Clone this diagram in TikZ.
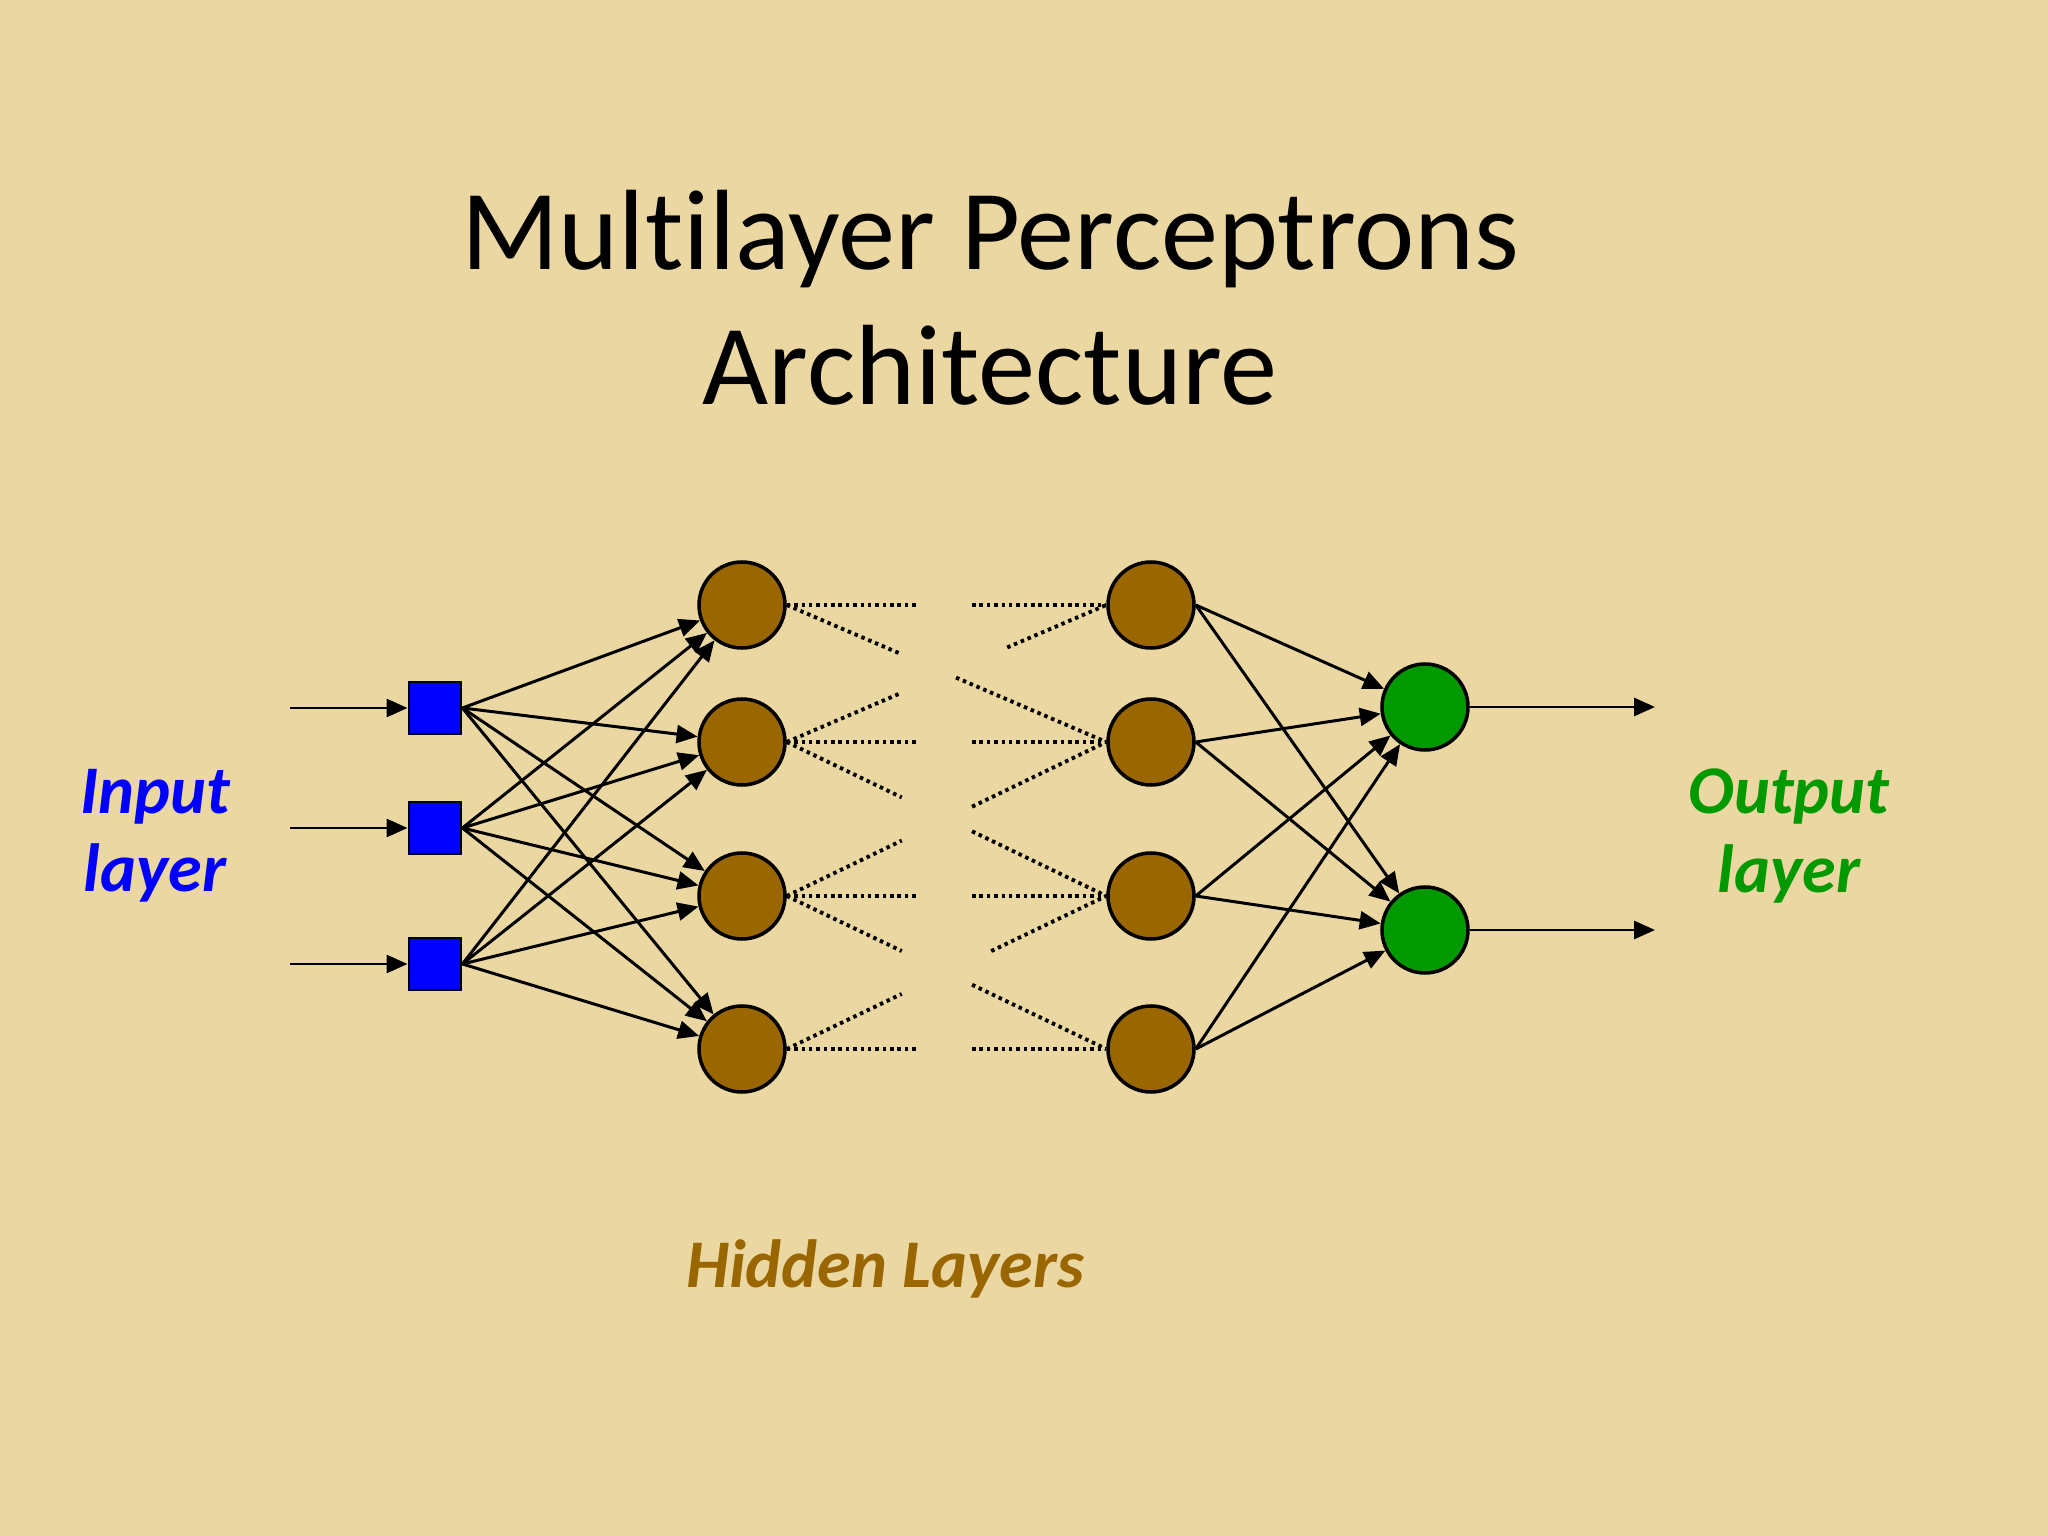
\documentclass[tikz,border=0pt]{standalone}
\usepackage{fontspec}
\setmainfont{Carlito}[Ligatures=NoCommon]
\usepackage{xcolor}
\usetikzlibrary{arrows.meta,calc,positioning}
\definecolor{papyrus}{RGB}{234,215,162}
\definecolor{unitbrown}{RGB}{153,102,0}
\definecolor{unitgreen}{RGB}{0,153,0}

\begin{document}
\begin{tikzpicture}[>={Triangle[length=2.1mm,width=1.8mm]},
  inunit/.style={draw, fill=blue, line width=0.8pt, minimum size=0.52cm, inner sep=0pt},
  hidunit/.style={circle, draw, fill=unitbrown, line width=1pt, minimum size=0.86cm, inner sep=0pt},
  outunit/.style={hidunit, fill=unitgreen},
  wire/.style={->, line width=0.85pt},
  faint/.style={line width=1.1pt, dash pattern=on 1pt off 1.1pt},
  lbl/.style={font=\fontsize{19.4}{22.3}\selectfont\bfseries\itshape, align=center}]

% ---- Slide background ----
\fill[papyrus] (0,0) rectangle (20.48,-15.36);
\useasboundingbox (0,0) rectangle (20.48,-15.36);

% ---- Title ----
\node[font=\fontsize{32.5}{38}\selectfont, anchor=base] (title1) at (9.90,-2.70) {Multilayer Perceptrons};
\node[font=\fontsize{32.5}{38}\selectfont, anchor=base] (title2) at (9.90,-4.05) {Architecture};

% ---- Input units (squares) ----
\node[inunit] (in1) at (4.35,-7.08) {};
\node[inunit] (in2) at (4.35,-8.28) {};
\node[inunit] (in3) at (4.35,-9.64) {};

% ---- Two hidden layers ----
\foreach \k/\y in {1/-6.05,2/-7.42,3/-8.96,4/-10.49} {
  \node[hidunit] (ha\k) at (7.42,\y) {};
  \node[hidunit] (hb\k) at (11.51,\y) {};
}

% ---- Output units ----
\node[outunit] (out1) at (14.25,-7.07) {};
\node[outunit] (out2) at (14.25,-9.30) {};

% ---- Signals in and out ----
\coordinate (feed) at (2.90,0);
\coordinate (sink) at (16.55,0);
\foreach \i in {1,2,3}
  \draw[wire] (feed |- in\i.west) -- (in\i.west);
\foreach \j in {1,2}
  \draw[wire] (out\j.east) -- (sink |- out\j.east);

% ---- Full connections ----
\foreach \i in {1,2,3}
  \foreach \k in {1,...,4}
    \draw[wire] (in\i.east) -- (ha\k);
\foreach \k in {1,...,4}
  \foreach \j in {1,2}
    \draw[wire] (hb\k.east) -- (out\j);

% ---- Broken dotted links between the hidden layers ----
\foreach \a/\b/\p/\q in {1/1/.41/.58,2/2/.41/.58,3/3/.41/.58,4/4/.41/.58,
                         1/2/.36/.53,2/1/.36/.69,2/3/.36/.58,3/2/.36/.58,3/4/.36/.58,4/3/.36/.64} {
  \path (ha\a.east) -- coordinate[pos=\p] (gapL) coordinate[pos=\q] (gapR) (hb\b.west);
  \draw[faint] (ha\a.east) -- (gapL) (gapR) -- (hb\b.west);
}

% ---- Layer labels ----
\node[lbl, text=blue] (inlbl) at (1.55,-8.36) {Input\\layer};
\node[lbl, text=unitgreen] (outlbl) at (17.89,-8.36) {Output\\layer};
\node[lbl, text=unitbrown, anchor=base] (hidlbl) at (8.85,-12.87) {Hidden Layers};

\end{tikzpicture}
\end{document}
